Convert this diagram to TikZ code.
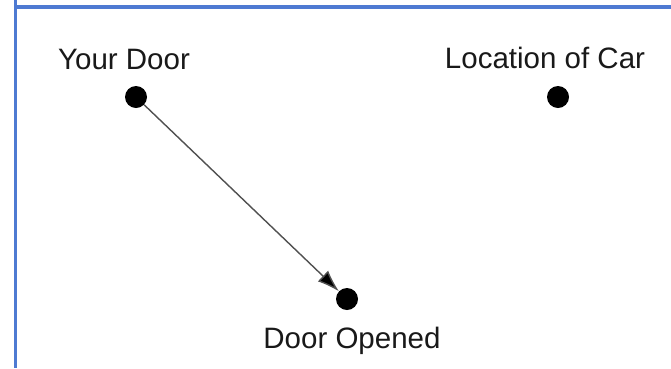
\documentclass[tikz,border=0pt]{standalone}
\usepackage{fontspec}
\setmainfont{Liberation Sans}
\usetikzlibrary{arrows.meta}
\definecolor{frameblue}{RGB}{78,122,210}
\definecolor{txt}{RGB}{25,25,25}
\definecolor{linegrey}{RGB}{80,80,80}
\begin{document}
\begin{tikzpicture}[x=1pt,y=-1pt,
  dot/.style={circle,fill=black,inner sep=0pt,minimum size=22pt},
  lbl/.style={anchor=base,inner sep=0pt,text=txt,font=\fontsize{29.5}{34}\selectfont},
  conn/.style={draw=linegrey,line width=1.4pt,-{Latex[length=22pt,width=15pt,fill=black]},shorten >=0pt}]
\useasboundingbox (0,0) rectangle (671,368);
\fill[white] (0,0) rectangle (671,368);
\draw[frameblue,line width=3pt] (15,0) -- (15,368);
\draw[frameblue,line width=3.5pt] (15,7) -- (671,7);
\node[dot] (yd) at (136,97) {};
\node[dot] (car) at (558,97) {};
\node[dot] (op) at (347,299) {};
\node[lbl] (ydl) at (124,69) {Your Door};
\node[lbl] (carl) at (545,68) {Location of Car};
\node[lbl] (opl) at (352,348) {Door Opened};
\draw[conn] (yd) -- (op);
\end{tikzpicture}
\end{document}
